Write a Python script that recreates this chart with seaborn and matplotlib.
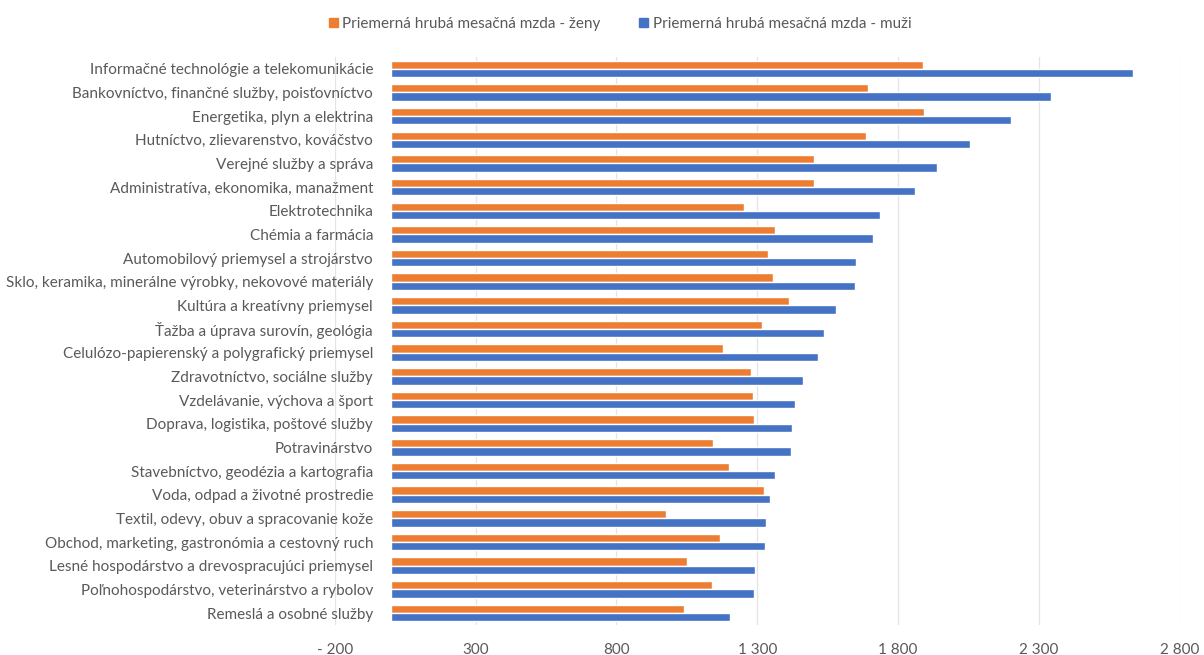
import numpy as np
import pandas as pd
import matplotlib
matplotlib.use("Agg")
import matplotlib.pyplot as plt
import seaborn as sb
from matplotlib.ticker import FuncFormatter

# data
odvetvia = [
    "Informačné technológie a telekomunikácie",
    "Bankovníctvo, finančné služby, poisťovníctvo",
    "Energetika, plyn a elektrina",
    "Hutníctvo, zlievarenstvo, kováčstvo",
    "Verejné služby a správa",
    "Administratíva, ekonomika, manažment",
    "Elektrotechnika",
    "Chémia a farmácia",
    "Automobilový priemysel a strojárstvo",
    "Sklo, keramika, minerálne výrobky, nekovové materiály",
    "Kultúra a kreatívny priemysel",
    "Ťažba a úprava surovín, geológia",
    "Celulózo-papierenský a polygrafický priemysel",
    "Zdravotníctvo, sociálne služby",
    "Vzdelávanie, výchova a šport",
    "Doprava, logistika, poštové služby",
    "Potravinárstvo",
    "Stavebníctvo, geodézia a kartografia",
    "Voda, odpad a životné prostredie",
    "Textil, odevy, obuv a spracovanie kože",
    "Obchod, marketing, gastronómia a cestovný ruch",
    "Lesné hospodárstvo a drevospracujúci priemysel",
    "Poľnohospodárstvo, veterinárstvo a rybolov",
    "Remeslá a osobné služby",
]
zeny = [1887, 1694, 1892, 1685, 1502, 1502, 1254, 1361, 1337, 1357, 1414, 1318,
        1177, 1278, 1284, 1290, 1144, 1201, 1322, 975, 1168, 1052, 1139, 1038]
muzi = [2635, 2342, 2201, 2055, 1936, 1859, 1734, 1709, 1651, 1646, 1579, 1536,
        1516, 1463, 1433, 1424, 1419, 1361, 1345, 1332, 1327, 1293, 1290, 1202]
serie = ["Priemerná hrubá mesačná mzda - ženy", "Priemerná hrubá mesačná mzda - muži"]
x_ticks = [-200, 300, 800, 1300, 1800, 2300, 2800]

df = pd.DataFrame({"odvetvie": odvetvia * 2,
                   "mzda": zeny + muzi,
                   "seria": [serie[0]] * len(zeny) + [serie[1]] * len(muzi)})

sb.set_style("white")
plt.rcParams['font.family'] = ['Lato', 'DejaVu Sans']

fig = plt.figure(figsize=(12.04, 6.55), dpi=100)
ax = fig.add_axes([0.278, 0.046, 0.702, 0.867])

farby = {serie[0]: "#ED7D31", serie[1]: "#4472C4"}
sb.barplot(data=df, x="mzda", y="odvetvie", hue="seria", hue_order=serie,
           palette=farby, orient="h", width=0.7, ax=ax, saturation=1)

ax.set_xlim(-200, 2800)
ax.set_xticks(x_ticks)
ax.xaxis.set_major_formatter(FuncFormatter(lambda v, p: f"{int(v):,}".replace(",", " ").replace("-", "- ")))
ax.grid(axis="x", color="#E4E4E4", linewidth=0.9)
ax.set_axisbelow(True)
for s in ["top", "right", "bottom", "left"]:
    ax.spines[s].set_visible(False)
ax.spines["left"].set_position(("data", 0))
ax.tick_params(axis="both", length=0, labelcolor="#595959", labelsize=11)
ax.tick_params(axis="y", pad=13)
ax.tick_params(axis="x", pad=13)
ax.set_xlabel("")
ax.set_ylabel("")

ax.get_legend().remove()
handles = [plt.Rectangle((0, 0), 1, 1, color=farby[s]) for s in serie]
fig.legend(handles, serie, loc="upper center", bbox_to_anchor=(0.515, 0.995), ncol=2,
           frameon=False, fontsize=11, handlelength=0.6, handleheight=0.6,
           handletextpad=0.3, columnspacing=2.5, labelcolor="#595959")

fig.savefig("out.png", dpi=100)
